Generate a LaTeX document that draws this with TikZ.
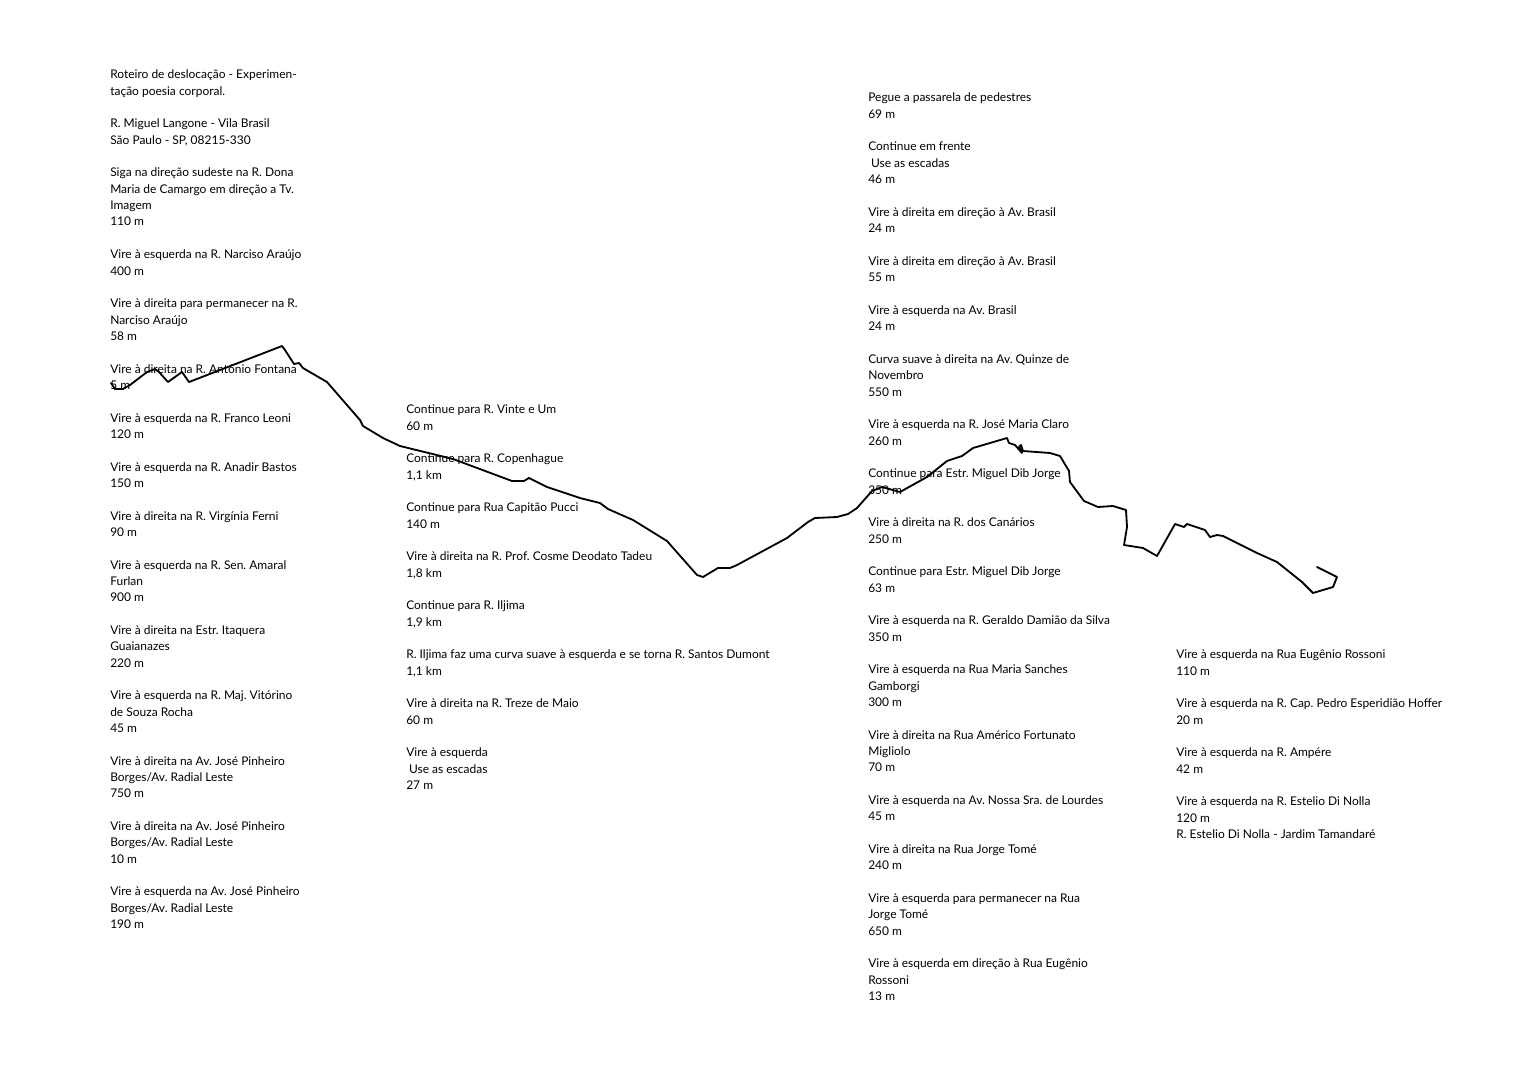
\documentclass[tikz,border=0pt]{standalone}
\usepackage{fontspec}
\setmainfont{Lato}
\newcommand{\blank}{\\[11.62pt]}
\begin{document}
\begin{tikzpicture}[
        x=0.025cm,y=-0.025cm,
        steps/.style={anchor=north west,inner sep=0pt,align=left,
            font=\fontsize{8.52}{11.62}\selectfont\frenchspacing},
        route/.style={line width=1.3pt,line join=round,line cap=round}
    ]
    \useasboundingbox (0,0) rectangle (1520,1080);

    % First column
    \node[steps] (colA) at (110,69.8) {%
        Roteiro de deslocação - Experimen-\\
        tação poesia corporal.\blank
        R. Miguel Langone - Vila Brasil\\
        São Paulo - SP, 08215-330\blank
        Siga na direção sudeste na R. Dona\\
        Maria de Camargo em direção a Tv.\\
        Imagem\\
        110 m\blank
        Vire à esquerda na R. Narciso Araújo\\
        400 m\blank
        Vire à direita para permanecer na R.\\
        Narciso Araújo\\
        58 m\blank
        Vire à direita na R. Antônio Fontana\\
        5 m\blank
        Vire à esquerda na R. Franco Leoni\\
        120 m\blank
        Vire à esquerda na R. Anadir Bastos\\
        150 m\blank
        Vire à direita na R. Virgínia Ferni\\
        90 m\blank
        Vire à esquerda na R. Sen. Amaral\\
        Furlan\\
        900 m\blank
        Vire à direita na Estr. Itaquera\\
        Guaianazes\\
        220 m\blank
        Vire à esquerda na R. Maj. Vitórino\\
        de Souza Rocha\\
        45 m\blank
        Vire à direita na Av. José Pinheiro\\
        Borges/Av. Radial Leste\\
        750 m\blank
        Vire à direita na Av. José Pinheiro\\
        Borges/Av. Radial Leste\\
        10 m\blank
        Vire à esquerda na Av. José Pinheiro\\
        Borges/Av. Radial Leste\\
        190 m};

    % Second column
    \node[steps] (colB) at (406,404.6) {%
        Continue para R. Vinte e Um\\
        60 m\blank
        Continue para R. Copenhague\\
        1,1 km\blank
        Continue para Rua Capitão Pucci\\
        140 m\blank
        Vire à direita na R. Prof. Cosme Deodato Tadeu\\
        1,8 km\blank
        Continue para R. Iljima\\
        1,9 km\blank
        R. Iljima faz uma curva suave à esquerda e se torna R. Santos Dumont\\
        1,1 km\blank
        Vire à direita na R. Treze de Maio\\
        60 m\blank
        Vire à esquerda\\
        \hspace*{2pt}Use as escadas\\
        27 m};

    % Third column
    \node[steps] (colC) at (868,92.8) {%
        Pegue a passarela de pedestres\\
        69 m\blank
        Continue em frente\\
        \hspace*{2pt}Use as escadas\\
        46 m\blank
        Vire à direita em direção à Av. Brasil\\
        24 m\blank
        Vire à direita em direção à Av. Brasil\\
        55 m\blank
        Vire à esquerda na Av. Brasil\\
        24 m\blank
        Curva suave à direita na Av. Quinze de\\
        Novembro\\
        550 m\blank
        Vire à esquerda na R. José Maria Claro\\
        260 m\blank
        Continue para Estr. Miguel Dib Jorge\\
        350 m\blank
        Vire à direita na R. dos Canários\\
        250 m\blank
        Continue para Estr. Miguel Dib Jorge\\
        63 m\blank
        Vire à esquerda na R. Geraldo Damião da Silva\\
        350 m\blank
        Vire à esquerda na Rua Maria Sanches\\
        Gamborgi\\
        300 m\blank
        Vire à direita na Rua Américo Fortunato\\
        Migliolo\\
        70 m\blank
        Vire à esquerda na Av. Nossa Sra. de Lourdes\\
        45 m\blank
        Vire à direita na Rua Jorge Tomé\\
        240 m\blank
        Vire à esquerda para permanecer na Rua\\
        Jorge Tomé\\
        650 m\blank
        Vire à esquerda em direção à Rua Eugênio\\
        Rossoni\\
        13 m};

    % Fourth column
    \node[steps] (colD) at (1176,649.8) {%
        Vire à esquerda na Rua Eugênio Rossoni\\
        110 m\blank
        Vire à esquerda na R. Cap. Pedro Esperidião Hoffer\\
        20 m\blank
        Vire à esquerda na R. Ampére\\
        42 m\blank
        Vire à esquerda na R. Estelio Di Nolla\\
        120 m\\
        R. Estelio Di Nolla - Jardim Tamandaré};

    % Route line
    \draw[route]
        (111,383) -- (115,389) -- (123,389) -- (130,385) -- (147,372) -- (155,369)
        -- (159,372) -- (168,382) -- (182,372) -- (189,382) -- (282,346) -- (285,350)
        -- (294,364) -- (299,363) -- (303,368) -- (327,382) -- (340,397) -- (360,420)
        -- (363,426) -- (383,438) -- (400,446) -- (453,459) -- (512,481) -- (524,481)
        -- (529,478) -- (547,487) -- (580,498) -- (600,503) -- (608,509) -- (633,520)
        -- (667,541) -- (697,575) -- (703,577) -- (718,568) -- (730,568) -- (737,565)
        -- (787,538) -- (808,522) -- (815,518) -- (837,517) -- (848,514) -- (857,508)
        -- (872,491) -- (882,487) -- (900,492) -- (927,477) -- (947,461) -- (962,456)
        -- (973,448) -- (1007,438) -- (1009,443) -- (1015,445) -- (1022,453) -- (1019,447)
        -- (1021,445) -- (1023,451) -- (1050,453) -- (1060,456) -- (1069,471) -- (1070,482)
        -- (1084,501) -- (1098,507) -- (1113,506) -- (1126,510) -- (1127,527) -- (1124,545)
        -- (1143,548) -- (1157,556) -- (1175,524) -- (1184,527) -- (1187,524) -- (1205,530)
        -- (1210,537) -- (1217,535) -- (1223,536) -- (1257,553) -- (1277,562) -- (1302,582)
        -- (1313,593) -- (1333,587) -- (1337,577) -- (1317,567);

\end{tikzpicture}
\end{document}
